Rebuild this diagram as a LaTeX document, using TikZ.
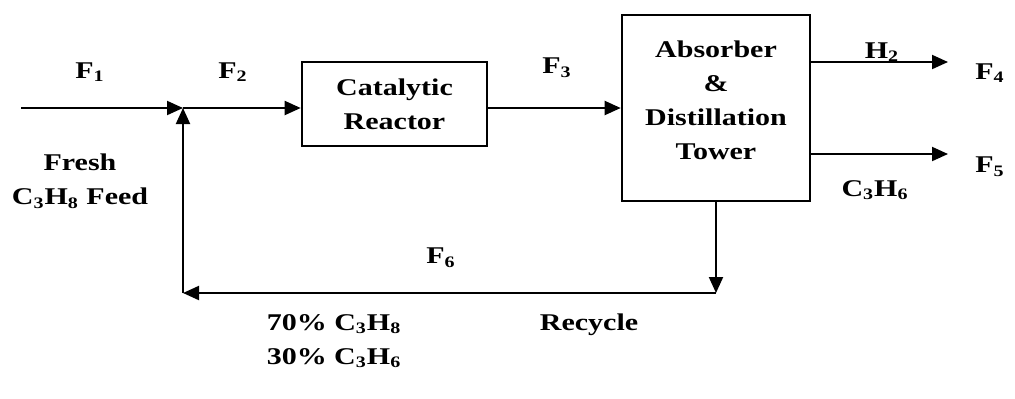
\documentclass[tikz,border=0pt]{standalone}
\usepackage{fontspec}
\setmainfont{Liberation Serif}[FakeStretch=1.25]
\usepackage{tikz}
\usetikzlibrary{positioning,arrows.meta}

\begin{document}
\begin{tikzpicture}[x=0.5pt,y=-0.5pt,font=\fontsize{12}{17}\selectfont\bfseries,
  unit/.style={draw,line width=1.3pt,align=center,inner sep=0pt},
  flow/.style={line width=1pt,-{Triangle[length=8pt,width=7pt]}},
  lbl/.style={align=center,inner sep=0pt}]
  \useasboundingbox (0,0) rectangle (1015,398);
  % units
  \node[unit,minimum width=92.5pt,minimum height=42pt] (reactor) at (394.5,104) {Catalytic\\Reactor};
  \node[unit,minimum width=94pt,minimum height=93pt,text depth=8pt] (tower) at (716,108) {Absorber\\\&\\Distillation\\Tower};
  % stream points
  \coordinate (feed) at (21,108);
  \coordinate (mix) at (183,108);
  \coordinate (h2out) at (948,62);
  \coordinate (c3out) at (948,154);
  \coordinate (recyc) at (716,293);
  \coordinate (back) at (183,293);
  % streams
  \draw[flow] (feed) -- (mix);
  \draw[flow] (mix) -- (mix -| reactor.west);
  \draw[flow] (reactor.east |- mix) -- (tower.west |- mix);
  \draw[flow] (tower.east |- h2out) -- (h2out);
  \draw[flow] (tower.east |- c3out) -- (c3out);
  \draw[flow] (tower.south) -- (recyc);
  \draw[flow] (recyc) -- (back);
  \draw[flow] (back) -- (mix);
  % labels
  \node[lbl] (f1) at (90,72) {F\textsubscript{1}};
  \node[lbl] (f2) at (233,72) {F\textsubscript{2}};
  \node[lbl] (f3) at (557,68) {F\textsubscript{3}};
  \node[lbl] (h2) at (882,52) {H\textsubscript{2}};
  \node[lbl] (f4) at (990,73) {F\textsubscript{4}};
  \node[lbl] (f5) at (990,167) {F\textsubscript{5}};
  \node[lbl] (c3h6) at (875,190) {C\textsubscript{3}H\textsubscript{6}};
  \node[lbl] (fresh) at (80,181) {Fresh\\C\textsubscript{3}H\textsubscript{8} Feed};
  \node[lbl] (f6) at (441,258) {F\textsubscript{6}};
  \node[lbl] (comp) at (334,341) {70\% C\textsubscript{3}H\textsubscript{8}\\30\% C\textsubscript{3}H\textsubscript{6}};
  \node[lbl] (rec) at (589,325) {Recycle};
\end{tikzpicture}
\end{document}
